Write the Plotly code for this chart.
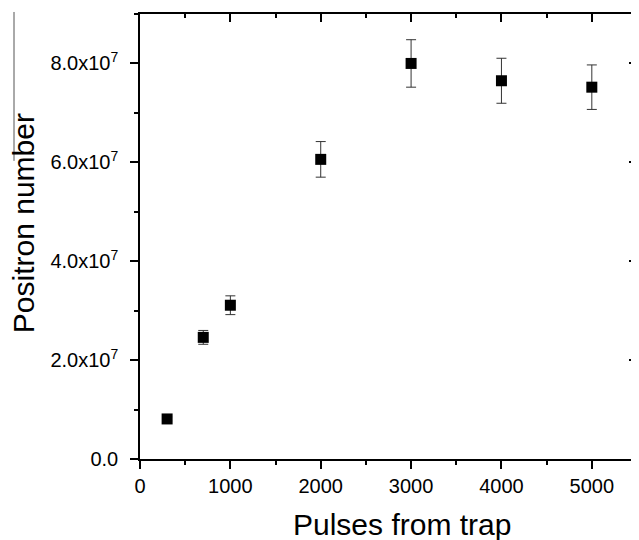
import plotly.graph_objects as go

pulses = [300, 700, 1000, 2000, 3000, 4000, 5000]
positrons = [8.1e6, 2.46e7, 3.11e7, 6.06e7, 8.0e7, 7.65e7, 7.52e7]
errors = [4e5, 1.4e6, 1.9e6, 3.6e6, 4.8e6, 4.55e6, 4.5e6]

x_ticks = [0, 1000, 2000, 3000, 4000, 5000]
y_ticks = [0, 2e7, 4e7, 6e7, 8e7]
y_ticktext = ["0.0", "2.0x10<sup>7</sup>", "4.0x10<sup>7</sup>", "6.0x10<sup>7</sup>", "8.0x10<sup>7</sup>"]

FONT = "Arial, Liberation Sans, sans-serif"

fig = go.Figure()
fig.add_trace(go.Scatter(
    x=pulses, y=positrons, mode="markers",
    marker=dict(symbol="square", size=11, color="black"),
    error_y=dict(type="data", array=errors, visible=True, color="#333333", thickness=1, width=5),
    showlegend=False, xaxis="x", yaxis="y",
))
# invisible trace so the mirrored (top/right) axes are drawn
fig.add_trace(go.Scatter(x=[None], y=[None], xaxis="x2", yaxis="y2", showlegend=False, hoverinfo="skip"))

axis_common = dict(showgrid=False, zeroline=False, showline=True, linecolor="black", linewidth=1.5,
                   tickcolor="black", tickwidth=1.5, ticklen=8)

fig.update_layout(
    width=631, height=532,
    margin=dict(l=132, r=2, t=6, b=81),
    paper_bgcolor="white", plot_bgcolor="white",
    font=dict(family=FONT, color="black", size=20),
    xaxis=dict(range=[0, 5500], tickvals=x_ticks, ticks="outside",
               tickfont=dict(size=20, family=FONT),
               minor=dict(ticks="outside", dtick=500, tick0=0, ticklen=4, tickcolor="black", tickwidth=1.5),
               **axis_common),
    yaxis=dict(range=[0, 9e7], tickvals=y_ticks, ticktext=y_ticktext, ticks="outside",
               tickfont=dict(size=20, family=FONT), ticklabelstandoff=8,
               minor=dict(ticks="outside", dtick=1e7, tick0=0, ticklen=4, tickcolor="black", tickwidth=1.5),
               **axis_common),
    xaxis2=dict(range=[0, 5500], overlaying="x", side="top", tickvals=x_ticks, ticks="inside",
                showticklabels=False,
                minor=dict(ticks="inside", dtick=500, tick0=0, ticklen=4, tickcolor="black", tickwidth=1.5),
                **axis_common),
    yaxis2=dict(range=[0, 9e7], overlaying="y", side="right", tickvals=y_ticks, ticks="inside",
                showticklabels=False,
                minor=dict(ticks="inside", dtick=1e7, tick0=0, ticklen=4, tickcolor="black", tickwidth=1.5),
                **axis_common),
    annotations=[
        dict(text="Pulses from trap", xref="paper", yref="paper", x=0.527, y=0,
             yshift=-65, xanchor="center", yanchor="middle", showarrow=False,
             font=dict(size=30, family=FONT)),
        dict(text="Positron number", xref="paper", yref="paper", x=0, y=0.53,
             xshift=-117, xanchor="center", yanchor="middle", textangle=-90, showarrow=False,
             font=dict(size=30, family=FONT)),
    ],
    shapes=[
        dict(type="line", xref="paper", yref="paper", x0=-0.2535, x1=-0.2535, y0=1.0045, y1=0.67,
             line=dict(color="#555555", width=1)),
    ],
)

fig.write_html("out.html")
